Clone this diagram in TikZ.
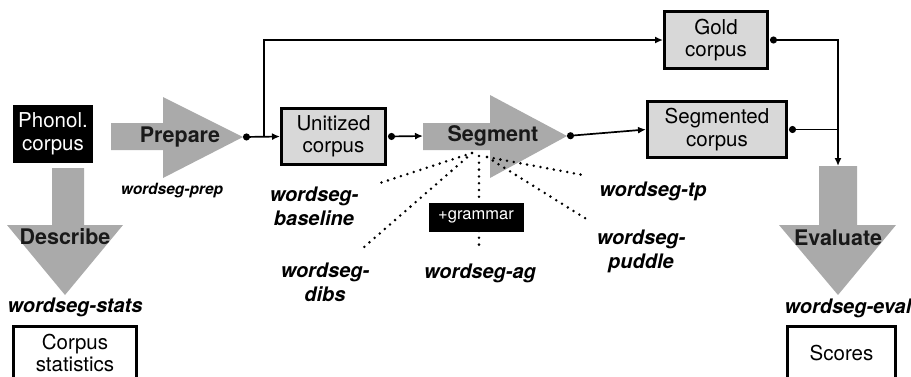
\documentclass[tikz,border=0pt]{standalone}
\usepackage{fontspec}
\setmainfont{TeX Gyre Heros}
\usetikzlibrary{arrows.meta,positioning,calc}
\definecolor{fatgray}{RGB}{170,170,170}
\definecolor{boxgray}{RGB}{216,216,216}
\newcommand\boxfont{\fontsize{20.5}{22.5}\selectfont}

\begin{document}
\begin{tikzpicture}[x=1pt,y=-1pt,
  box/.style={rectangle,draw=black,line width=3pt,inner sep=0pt,align=center,font=\boxfont},
  gbox/.style={box,fill=boxgray},
  bbox/.style={box,fill=black,text=white},
  wbox/.style={box,fill=white},
  fat/.style={fill=fatgray},
  stage/.style={font=\fontsize{21.5}{24}\selectfont\bfseries,text=black!90},
  tool/.style={font=\fontsize{20}{24}\selectfont\bfseries\itshape,align=center},
  conn/.style={line width=1.7pt},
  arr/.style={conn,-{Latex[length=8pt,width=7pt]}},
  dotarr/.style={conn,{Circle[length=7pt]}-{Latex[length=8pt,width=7pt]}},
  fan/.style={line width=2.8pt,line cap=round,dash pattern=on 0pt off 6.8pt}
]
  \useasboundingbox (0,0) rectangle (911,376);

  % big grey arrows
  \fill[fat] (111,123) -- (163,123) -- (163,97) -- (243,137) -- (163,178) -- (163,150) -- (111,150) -- cycle;
  \fill[fat] (423,123) -- (490,123) -- (490,95) -- (567,136) -- (490,178) -- (490,150) -- (423,150) -- cycle;
  \fill[fat] (52,168) -- (84,168) -- (84,225) -- (123,225) -- (65,295) -- (7,225) -- (52,225) -- cycle;
  \fill[fat] (819,166) -- (857,166) -- (857,225) -- (896,225) -- (838,295) -- (779,225) -- (819,225) -- cycle;

  \node[stage] (prep) at (180,137) {Prepare};
  \node[stage] (seg)  at (493,136) {Segment};
  \node[stage] (desc) at (65,237)  {Describe};
  \node[stage] (eval) at (838,238) {Evaluate};

  \coordinate (preptip) at (243,137);
  \coordinate (split)   at (264,137);
  \coordinate (segtail) at (423,136);
  \coordinate (segtip)  at (567,136);
  \coordinate (evaltop) at (838,166);

  % corpora
  \node[bbox,minimum width=77pt,minimum height=55pt] (phon) at (53,134) {Phonol.\\corpus};
  \node[gbox,minimum width=104pt,minimum height=56pt] (unit) at (333.5,136.5) {Unitized\\corpus};
  \node[gbox,minimum width=103pt,minimum height=57pt] (gold) at (716,40) {Gold\\corpus};
  \node[gbox,minimum width=139pt,minimum height=56pt] (segd) at (717,129.5) {Segmented\\corpus};
  \node[wbox,minimum width=123pt,minimum height=54pt,anchor=north] (stats) at (75,324.5) {Corpus\\statistics};
  \node[wbox,minimum width=108pt,minimum height=54pt,anchor=north] (scores) at (841.5,324.5) {Scores};
  \node[box,line width=0pt,fill=black,text=white,font=\fontsize{16.5}{18}\selectfont,
        minimum width=94pt,minimum height=28pt] (gram) at (476,217) {+grammar};

  % tools
  \node[tool,font=\fontsize{15.5}{18}\selectfont\bfseries\itshape] (tprep) at (172,191) {wordseg-prep};
  \node[tool] (tbase)  at (314,206) {wordseg-\\baseline};
  \node[tool] (tdibs)  at (325,282) {wordseg-\\dibs};
  \node[tool] (tag)    at (480,273) {wordseg-ag};
  \node[tool] (ttp)    at (653,191) {wordseg-tp};
  \node[tool] (tpud)   at (641,251) {wordseg-\\puddle};
  \node[tool] (tstats) at (75,307)  {wordseg-stats};
  \node[tool] (teval)  at (848,308) {wordseg-eval};

  % flow
  \draw[dotarr] (preptip) -- (unit.west);
  \draw[arr] (split) |- (gold.west);
  \draw[dotarr] ([xshift=1pt]unit.east) -- (segtail);
  \draw[dotarr] (segtip) -- (segd.west);
  \draw[dotarr] ([xshift=1pt]gold.east) -| (evaltop);
  \draw[conn,{Circle[length=7pt]}-] ([xshift=1pt]segd.east) -- (segd.east -| evaltop);

  % dotted fan below Segment
  \coordinate (fanL) at (472,153);
  \coordinate (fanM) at (479,156);
  \coordinate (fanR) at (487,157);
  \coordinate (endbase) at (380,183);
  \coordinate (enddibs) at (363,248);
  \coordinate (endag)   at (479,250);
  \coordinate (endtp)   at (583,175);
  \coordinate (endpud)  at (588,220);
  \draw[fan] (fanL) -- (endbase);
  \draw[fan] (fanL) -- (enddibs);
  \draw[fan] (fanM) -- (gram.north -| fanM);
  \draw[fan] (gram.south -| fanM) -- (endag);
  \draw[fan] (fanR) -- (endtp);
  \draw[fan] (fanR) -- (endpud);
\end{tikzpicture}
\end{document}
